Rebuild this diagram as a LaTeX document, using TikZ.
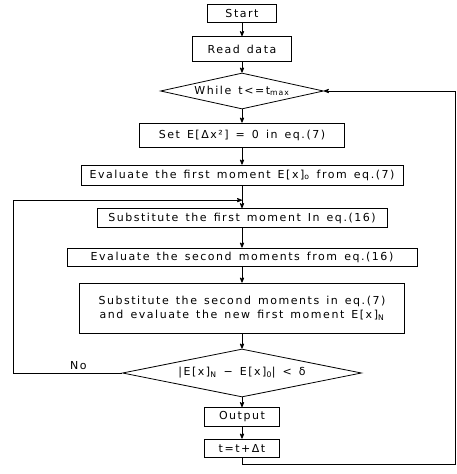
\documentclass[tikz,border=0pt]{standalone}
\usepackage{fontspec}
\setmainfont{DejaVu Sans}[LetterSpace=14,WordSpace=1.4]
\usepackage{tikz}
\usetikzlibrary{arrows, shapes.geometric}

\begin{document}
\begin{tikzpicture}[->,>=stealth',x=1pt,y=1pt,thick,
		font=\fontsize{11}{14}\selectfont,
		box/.style={draw,rectangle,inner sep=0pt,minimum height=19pt},
		test/.style={draw,diamond,inner sep=0pt,aspect=5}]
			\useasboundingbox (0,0) rectangle (457,-474);
			\node[box, minimum width=69pt, minimum height=18pt] (start) at (242,-13) {Start};
			\node[box, below of=start, node distance=36pt, minimum width=99pt, minimum height=25pt] (read) {Read data};
			\node[test, below of=read, node distance=42pt, minimum width=163pt, minimum height=36pt] (while) {While t<=t\textsubscript{max}};
			\node[box, below of=while, node distance=44pt, minimum width=205pt, minimum height=24pt] (set) {Set E[Δx²] = 0 in eq.(7)};
			\node[box, below of=set, node distance=40pt, minimum width=322pt, minimum height=20pt] (eval1) {Evaluate the first moment E[x]\textsubscript{o} from eq.(7)};
			\node[box, below of=eval1, node distance=43pt, minimum width=290pt] (sub1) {Substitute the first moment In eq.(16)};
			\node[box, below of=sub1, node distance=39pt, minimum width=350pt, minimum height=18pt] (eval2) {Evaluate the second moments from eq.(16)};
			\node[box, below of=eval2, node distance=51pt, minimum width=325pt, minimum height=50pt, align=center] (sub2) {Substitute the second moments in eq.(7)\\and evaluate the new first moment E[x]\textsubscript{N}};
			\node[test, below of=sub2, node distance=65pt, minimum width=239pt, minimum height=48pt] (check) {|E[x]\textsubscript{N} − E[x]\textsubscript{0}| < δ};
			\node[box, below of=check, node distance=44pt, minimum width=75pt] (out) {Output};
			\node[box, below of=out, node distance=31pt, minimum width=75pt, minimum height=18pt] (step) {t=t+Δt};
			\draw (start) -- (read);
			\draw (read) -- (while);
			\draw (while) -- (set);
			\draw (set) -- (eval1);
			\draw (eval1) -- (sub1);
			\draw (sub1) -- (eval2);
			\draw (eval2) -- (sub2);
			\draw (sub2) -- (check);
			\draw (check) -- (out);
			\draw (out) -- (step);
			% return paths
			\path (eval1.south) -- coordinate[pos=.65] (back) (sub1.north);
			\coordinate (lb) at (13,0);
			\coordinate (rb) at (455,-464);
			\draw (check.west) -- node[above, pos=.4] {No} (check.west -| lb) |- (back);
			\draw (step.south) |- (rb) |- (while.east);
		\end{tikzpicture}
\end{document}
